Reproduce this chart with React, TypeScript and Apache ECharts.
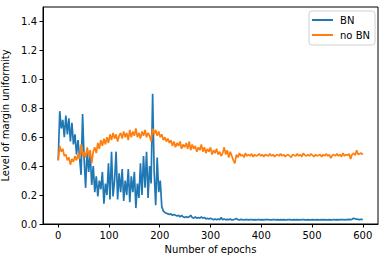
import React, { useEffect, useRef } from "react";
import * as echarts from "echarts";

const epochStep = 3;

const bnValues = [
  0.44, 0.78, 0.66, 0.72, 0.6, 0.75, 0.62, 0.73, 0.57, 0.7,
  0.55, 0.62, 0.48, 0.58, 0.46, 0.34, 0.76, 0.45, 0.25, 0.52,
  0.36, 0.48, 0.27, 0.4, 0.22, 0.33, 0.19, 0.3, 0.24, 0.36,
  0.14, 0.28, 0.2, 0.42, 0.17, 0.5, 0.19, 0.3, 0.5, 0.17,
  0.35, 0.22, 0.38, 0.16, 0.3, 0.2, 0.38, 0.15, 0.33, 0.22,
  0.36, 0.11, 0.28, 0.18, 0.42, 0.2, 0.47, 0.25, 0.5, 0.18,
  0.4, 0.28, 0.9, 0.36, 0.13, 0.46, 0.22, 0.3, 0.12, 0.09,
  0.08, 0.075, 0.07, 0.065, 0.07, 0.06, 0.065, 0.06, 0.055, 0.06,
  0.05, 0.06, 0.05, 0.045, 0.05, 0.045, 0.05, 0.06, 0.045, 0.04,
  0.05, 0.04, 0.045, 0.04, 0.05, 0.04, 0.045, 0.035, 0.04, 0.035,
  0.04, 0.035, 0.03, 0.035, 0.03, 0.035, 0.03, 0.045, 0.03, 0.035,
  0.03, 0.032, 0.03, 0.035, 0.028, 0.03, 0.033, 0.038,
  0.03, 0.028, 0.032, 0.03, 0.029, 0.031, 0.03, 0.028, 0.03, 0.031,
  0.029, 0.03, 0.028, 0.031, 0.03, 0.029, 0.03, 0.028, 0.03, 0.031,
  0.03, 0.029, 0.028, 0.03, 0.031, 0.029, 0.03, 0.028, 0.03, 0.029,
  0.03, 0.028, 0.029, 0.031, 0.03, 0.028, 0.029, 0.03, 0.028, 0.03,
  0.029, 0.028, 0.03, 0.031, 0.029, 0.028, 0.03, 0.029, 0.028, 0.03,
  0.029, 0.028, 0.03, 0.029, 0.028, 0.03, 0.029, 0.03, 0.028, 0.029,
  0.03, 0.028, 0.029, 0.031, 0.029, 0.03, 0.028, 0.03, 0.031, 0.03,
  0.029, 0.031, 0.03, 0.032, 0.03, 0.033, 0.04, 0.036, 0.034, 0.032,
  0.03, 0.033, 0.03,
];

const noBnValues = [
  0.44, 0.54, 0.5, 0.52, 0.47, 0.48, 0.44, 0.46, 0.41, 0.45,
  0.43, 0.47, 0.44, 0.48, 0.45, 0.55, 0.47, 0.5, 0.46, 0.53,
  0.47, 0.51, 0.42, 0.5, 0.53, 0.49, 0.56, 0.52, 0.58, 0.54,
  0.59, 0.55, 0.6, 0.56, 0.62, 0.58, 0.63, 0.59, 0.62, 0.57,
  0.61, 0.63, 0.59, 0.64, 0.6, 0.63, 0.58, 0.65, 0.6, 0.64,
  0.61, 0.66, 0.6, 0.63, 0.59, 0.64, 0.61, 0.65, 0.6, 0.63,
  0.61, 0.57, 0.66, 0.62, 0.65, 0.61, 0.64, 0.6, 0.62, 0.58,
  0.6, 0.57, 0.59, 0.56, 0.58, 0.54, 0.57, 0.53, 0.56, 0.54,
  0.57, 0.52, 0.55, 0.53, 0.56, 0.52, 0.57, 0.51, 0.55, 0.52,
  0.54, 0.5, 0.53, 0.51, 0.55, 0.5, 0.53, 0.49, 0.52, 0.5,
  0.53, 0.48, 0.51, 0.49, 0.52, 0.48, 0.5, 0.47, 0.49, 0.53,
  0.48, 0.51, 0.46, 0.5, 0.47, 0.44, 0.42, 0.48, 0.46, 0.49,
  0.47, 0.48, 0.46, 0.49, 0.47,
  0.48, 0.47, 0.485, 0.465, 0.48, 0.47, 0.475, 0.485, 0.47, 0.48,
  0.465, 0.48, 0.475, 0.47, 0.485, 0.47, 0.48, 0.465, 0.475, 0.48,
  0.47, 0.485, 0.47, 0.48, 0.465, 0.475, 0.48, 0.47, 0.46, 0.48,
  0.475, 0.47, 0.485, 0.47, 0.48, 0.465, 0.49, 0.475, 0.47, 0.48,
  0.47, 0.485, 0.475, 0.465, 0.48, 0.47, 0.475, 0.48, 0.465, 0.48,
  0.47, 0.485, 0.47, 0.48, 0.455, 0.475, 0.48, 0.47, 0.485, 0.47,
  0.48, 0.465, 0.49, 0.47, 0.48, 0.475, 0.485, 0.45, 0.48, 0.49,
  0.475, 0.51, 0.48, 0.485, 0.49, 0.48,
];

const xTicks = [0, 100, 200, 300, 400, 500, 600];
const yTicks = [0, 0.2, 0.4, 0.6, 0.8, 1.0, 1.2, 1.4];

const FONT = "DejaVu Sans";

export default function App() {
  const ref = useRef<HTMLDivElement>(null);
  useEffect(() => {
    if (!ref.current) return;
    const chart = echarts.init(ref.current, undefined, { renderer: "svg" });
    const toPairs = (arr: number[]) => arr.map((v, i) => [i * epochStep, v]);
    chart.setOption({
      animation: false,
      backgroundColor: "#ffffff",
      textStyle: { fontFamily: FONT },
      grid: {
        left: 43,
        right: 8,
        top: 7,
        bottom: 38,
        containLabel: false,
        outerBoundsMode: "none",
        show: true,
        borderColor: "#000",
        borderWidth: 1,
        backgroundColor: "transparent",
      },
      legend: {
        orient: "vertical",
        right: 11,
        top: 11,
        icon: "rect",
        itemWidth: 21,
        itemHeight: 2,
        itemGap: 3,
        padding: [3, 5, 4, 3],
        borderColor: "#d0d0d0",
        borderWidth: 1,
        borderRadius: 3,
        backgroundColor: "rgba(255,255,255,0.8)",
        textStyle: { fontFamily: FONT, fontSize: 10, color: "#000", lineHeight: 12, padding: [0, 0, 0, 2] },
        data: ["BN", "no BN"],
      },
      xAxis: {
        type: "value",
        min: -30,
        max: 630,
        name: "Number of epochs",
        nameLocation: "middle",
        nameGap: 20,
        nameTextStyle: { fontFamily: FONT, fontSize: 10, color: "#000" },
        axisLine: { show: true, onZero: false, lineStyle: { color: "#000", width: 1 } },
        splitLine: { show: false },
        axisTick: { show: true, length: 3.5, lineStyle: { color: "#000", width: 1 }, customValues: xTicks },
        axisLabel: { fontFamily: FONT, fontSize: 10, color: "#000", margin: 6, customValues: xTicks },
      },
      yAxis: {
        type: "value",
        min: 0,
        max: 1.5,
        name: "Level of margin uniformity",
        nameLocation: "middle",
        nameGap: 24,
        nameTextStyle: { fontFamily: FONT, fontSize: 10, color: "#000" },
        axisLine: { show: true, onZero: false, lineStyle: { color: "#000", width: 1 } },
        splitLine: { show: false },
        axisTick: { show: true, length: 3.5, lineStyle: { color: "#000", width: 1 }, customValues: yTicks },
        axisLabel: {
          fontFamily: FONT,
          fontSize: 10,
          color: "#000",
          margin: 6,
          customValues: yTicks,
          formatter: (v: number) => v.toFixed(1),
        },
      },
      series: [
        {
          name: "BN",
          type: "line",
          data: toPairs(bnValues),
          showSymbol: false,
          color: "#1f77b4",
          lineStyle: { width: 1.7, color: "#1f77b4" },
          z: 2,
        },
        {
          name: "no BN",
          type: "line",
          data: toPairs(noBnValues),
          showSymbol: false,
          color: "#ff7f0e",
          lineStyle: { width: 1.7, color: "#ff7f0e" },
          z: 3,
        },
      ],
    });
    return () => chart.dispose();
  }, []);
  return (
    <div
      ref={ref}
      style={{ position: "fixed", left: 0, top: 0, width: 386, height: 262 }}
    />
  );
}
